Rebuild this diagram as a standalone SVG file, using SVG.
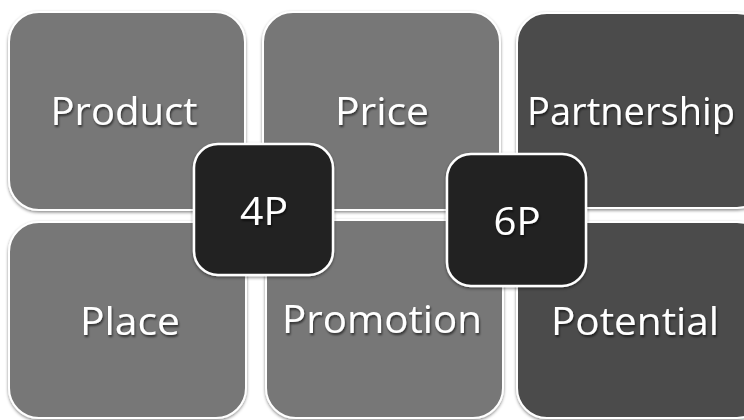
<svg xmlns="http://www.w3.org/2000/svg" width="744" height="420" viewBox="0 0 744 420">
<defs>
<filter id="sh" x="-10%" y="-10%" width="120%" height="120%">
<feDropShadow dx="0" dy="1.5" stdDeviation="1.5" flood-color="#000" flood-opacity="0.45"/>
</filter>
<filter id="tsh" x="-10%" y="-20%" width="120%" height="140%">
<feDropShadow dx="1" dy="2" stdDeviation="1.2" flood-color="#000" flood-opacity="0.6"/>
</filter>
</defs>
<style>
.box{stroke:#ffffff;stroke-width:2;filter:url(#sh)}
.light{fill:#777777}
.dark{fill:#4b4b4b}
.core{fill:#222222;stroke:#ffffff;stroke-width:2.5;filter:url(#sh)}
.lbl{font-family:"Open Sans","Liberation Sans",sans-serif;fill:#ffffff;text-anchor:middle;filter:url(#tsh)}
.big{font-size:39px}
</style>
<rect width="744" height="420" fill="#ffffff"/>
<g id="product"><rect class="box light" x="9" y="12" width="236" height="198" rx="30"/><text class="lbl big" x="124" y="125" textLength="147" lengthAdjust="spacingAndGlyphs">Product</text></g>
<g id="price"><rect class="box light" x="263" y="12" width="237" height="198" rx="30"/><text class="lbl big" x="382" y="125" textLength="94" lengthAdjust="spacingAndGlyphs">Price</text></g>
<g id="partnership"><rect class="box dark" x="517" y="13" width="250" height="195" rx="30"/><text class="lbl big" x="631" y="125" textLength="208" lengthAdjust="spacingAndGlyphs">Partnership</text></g>
<g id="place"><rect class="box light" x="9" y="222" width="237" height="196" rx="30"/><text class="lbl big" x="130" y="335" textLength="100" lengthAdjust="spacingAndGlyphs">Place</text></g>
<g id="promotion"><rect class="box light" x="266" y="220" width="237" height="198" rx="30"/><text class="lbl big" x="382" y="333" textLength="200" lengthAdjust="spacingAndGlyphs">Promotion</text></g>
<g id="potential"><rect class="box dark" x="517" y="222" width="250" height="196" rx="30"/><text class="lbl big" x="635" y="335" textLength="168" lengthAdjust="spacingAndGlyphs">Potential</text></g>
<g id="connectors"></g>
<g id="p4"><rect class="core" x="194" y="144" width="139" height="131" rx="24"/><text class="lbl big" x="264" y="225" textLength="48" lengthAdjust="spacingAndGlyphs">4P</text></g>
<g id="p6"><rect class="core" x="447" y="154" width="139" height="132" rx="24"/><text class="lbl big" x="517" y="235" textLength="47" lengthAdjust="spacingAndGlyphs">6P</text></g>
</svg>
